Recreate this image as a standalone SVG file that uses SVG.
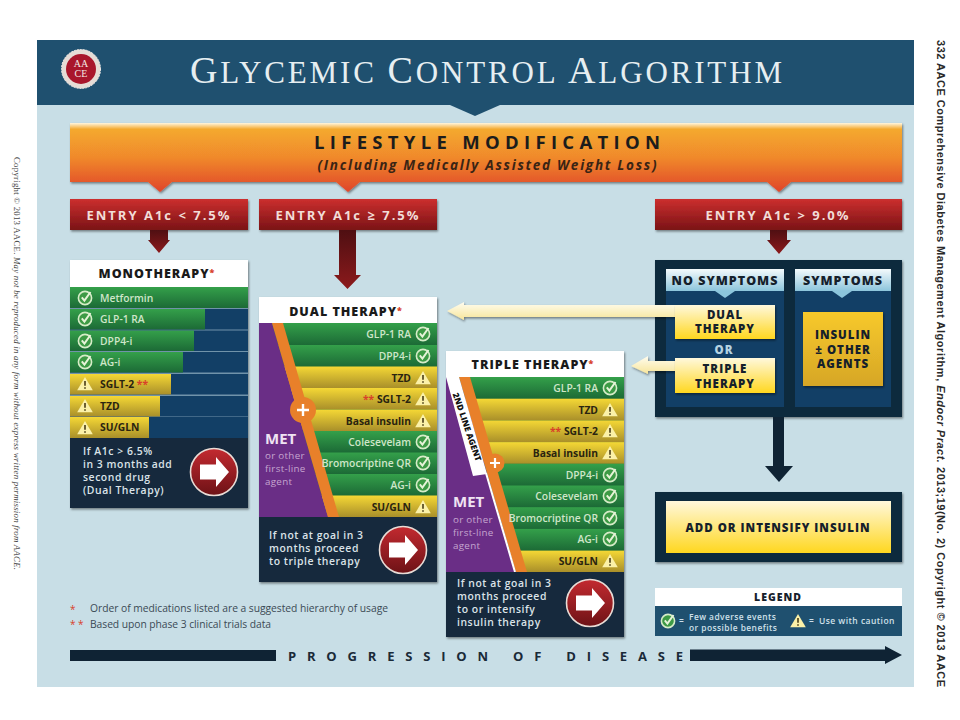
<svg xmlns="http://www.w3.org/2000/svg" width="960" height="720" viewBox="0 0 960 720">
<style>
text{font-family:"Open Sans","Noto Sans",sans-serif;}
.hd{font-weight:800;font-size:12.5px;letter-spacing:1px;fill:#1a1a1a;text-anchor:middle}
.en{font-weight:700;font-size:13px;letter-spacing:2px;fill:#f2ddd8;text-anchor:middle}
.rg{font-weight:600;font-size:10.3px;fill:#cfe6c9}
.ry{font-weight:700;font-size:10.3px;fill:#2a2410}
.r{text-anchor:end}
.ft{font-weight:600;font-size:10.4px;letter-spacing:.55px;fill:#dbe3e8}
.met{font-weight:700;font-size:15px;fill:#efe3f2}
.sub{font-weight:400;font-size:9.800px;letter-spacing:.3px;fill:#c6a6d0}
.ast{fill:#d8402a}
.cap{font-weight:800;font-size:11.5px;letter-spacing:1px;fill:#15202b;text-anchor:middle}
.gb{fill:url(#green)}.yb{fill:url(#yellow)}.bb{fill:#123f66}
.dk{fill:#16293d}
.sh{filter:url(#shadow)}
.lg{font-weight:600;font-size:8.400px;letter-spacing:.45px;fill:#cfe0ea}
</style>
<defs>
<filter id="shadow" x="-10%" y="-30%" width="125%" height="170%"><feDropShadow dx="1" dy="1.5" stdDeviation="1.2" flood-color="#000" flood-opacity=".45"/></filter>
<linearGradient id="green" x1="0" y1="0" x2="0" y2="1"><stop offset="0" stop-color="#34a04a"/><stop offset="1" stop-color="#1c6a36"/></linearGradient>
<linearGradient id="yellow" x1="0" y1="0" x2="0" y2="1"><stop offset="0" stop-color="#f5d835"/><stop offset="1" stop-color="#a98f2a"/></linearGradient>
<linearGradient id="orange" x1="0" y1="0" x2="0" y2="1"><stop offset="0" stop-color="#fff6df"/><stop offset=".09" stop-color="#f4a92e"/><stop offset=".5" stop-color="#f0892c"/><stop offset="1" stop-color="#e0452c"/></linearGradient>
<linearGradient id="red" x1="0" y1="0" x2="0" y2="1"><stop offset="0" stop-color="#cc2f2e"/><stop offset="1" stop-color="#7a1316"/></linearGradient>
<linearGradient id="darkred" x1="0" y1="0" x2="0" y2="1"><stop offset="0" stop-color="#4f0f12"/><stop offset="1" stop-color="#8c1a1c"/></linearGradient>
<linearGradient id="btn" x1="0" y1="0" x2="0" y2="1"><stop offset="0" stop-color="#c32a30"/><stop offset="1" stop-color="#6d1216"/></linearGradient>
<linearGradient id="sky" x1="0" y1="0" x2="0" y2="1"><stop offset="0" stop-color="#f4fafc"/><stop offset="1" stop-color="#8cc5dc"/></linearGradient>
<linearGradient id="cream" x1="0" y1="0" x2="0" y2="1"><stop offset="0" stop-color="#fff8dc"/><stop offset="1" stop-color="#ffd71f"/></linearGradient>
<linearGradient id="gold" x1="0" y1="0" x2="0" y2="1"><stop offset="0" stop-color="#f7c92c"/><stop offset="1" stop-color="#d6a626"/></linearGradient>
<linearGradient id="pale" x1="0" y1="0" x2="0" y2="1"><stop offset="0" stop-color="#fffdf0"/><stop offset="1" stop-color="#f7e59a"/></linearGradient>
<g id="chk"><circle r="6.6" fill="#3d9a45" stroke="#d6ecc8" stroke-width="1.6"/><path d="M-3.2-.6L-.6 2.6L5.5-6" fill="none" stroke="#e6f3d8" stroke-width="2"/></g>
<g id="wrn"><path d="M0-7L7.8 6.2H-7.8Z" fill="#fbf1a8"/><path d="M0-3V1.8M0 3.2V4.8" stroke="#3c2f0c" stroke-width="1.5"/></g>
<g id="go"><circle r="23.5" fill="url(#btn)" stroke="#e9dcd6" stroke-width="1.6"/><path d="M-14-7.5H2V-15L15 0L2 15V7.5H-14Z" fill="#fff"/></g>
</defs>

<rect x="37" y="40" width="877" height="647" fill="#c8dee6"/>

<g id="header">
<rect x="37" y="40" width="877" height="65" fill="#1f506f"/>
<path d="M450 105H500L475 116Z" fill="#1f506f"/>
<circle cx="81" cy="69" r="19.500" fill="#e6dcd6" stroke="#f2eeea" stroke-width="1" stroke-dasharray="2 1"/>
<circle cx="81" cy="69" r="15" fill="#a9162c"/>
<text x="81" y="67" font-size="10" text-anchor="middle" fill="#f4e8e4" style="font-family:'Liberation Serif',serif">AA</text>
<text x="81" y="77" font-size="10" text-anchor="middle" fill="#f4e8e4" style="font-family:'Liberation Serif',serif">CE</text>
<text x="190" y="83" font-size="31" fill="#e6eef1" textLength="592" lengthAdjust="spacing" style="font-family:'Liberation Serif',serif"><tspan font-size="38">G</tspan>LYCEMIC <tspan font-size="38">C</tspan>ONTROL <tspan font-size="38">A</tspan>LGORITHM</text>
</g>

<g id="lifestyle">
<path class="sh" d="M70 123H902V182H791L779 192L767 182H360L348 192L336 182H172L160 192L148 182H70Z" fill="url(#orange)"/>
<text x="487" y="149" font-size="18.500" font-weight="700" fill="#1c1c1c" text-anchor="middle" textLength="346" lengthAdjust="spacing">LIFESTYLE MODIFICATION</text>
<text x="487" y="170" font-size="13.500" font-weight="700" font-style="italic" fill="#3a2414" text-anchor="middle" textLength="339" lengthAdjust="spacing">(Including Medically Assisted Weight Loss)</text>
</g>

<g id="entry-low"><rect class="sh" x="70" y="199" width="178" height="31" fill="url(#red)"/><text class="en" x="159" y="220">ENTRY A1c &lt; 7.5%</text></g>
<g id="entry-mid"><rect class="sh" x="259" y="199" width="178" height="31" fill="url(#red)"/><text class="en" x="348" y="220">ENTRY A1c ≥ 7.5%</text></g>
<g id="entry-high"><rect class="sh" x="655" y="199" width="247" height="31" fill="url(#red)"/><text class="en" x="778" y="220">ENTRY A1c &gt; 9.0%</text></g>

<g id="monotherapy">
<rect class="sh" x="70" y="260" width="178" height="248" fill="#6f93aa"/>
<rect x="70" y="260" width="178" height="27" fill="#fff"/>
<text class="hd" x="157" y="278">MONOTHERAPY<tspan class="ast" dy="-2" font-size="9">*</tspan></text>
<rect class="bb" x="70" y="309" width="178" height="20.500"/><rect class="bb" x="70" y="330.500" width="178" height="20.500"/><rect class="bb" x="70" y="352" width="178" height="20.500"/><rect class="bb" x="70" y="374" width="178" height="20.500"/><rect class="bb" x="70" y="396" width="178" height="20.500"/><rect class="bb" x="70" y="417" width="178" height="21"/>
<rect class="gb" x="70" y="287" width="178" height="21"/>
<rect class="gb" x="70" y="309" width="135" height="20.500"/>
<rect class="gb" x="70" y="330.500" width="124" height="20.500"/>
<rect class="gb" x="70" y="352" width="113" height="20.500"/>
<rect class="yb" x="70" y="374" width="101" height="20.500"/>
<rect class="yb" x="70" y="396" width="90" height="20.500"/>
<rect class="yb" x="70" y="417" width="79" height="21"/>
<use href="#chk" x="85" y="298"/><use href="#chk" x="85" y="319"/><use href="#chk" x="85" y="341"/><use href="#chk" x="85" y="362"/>
<use href="#wrn" x="85" y="384"/><use href="#wrn" x="85" y="406"/><use href="#wrn" x="85" y="428"/>
<text class="rg" x="100" y="301.500">Metformin</text>
<text class="rg" x="100" y="323">GLP-1 RA</text>
<text class="rg" x="100" y="345">DPP4-i</text>
<text class="rg" x="100" y="366">AG-i</text>
<text class="ry" x="100" y="388">SGLT-2 <tspan class="ast">**</tspan></text>
<text class="ry" x="100" y="410">TZD</text>
<text class="ry" x="100" y="431">SU/GLN</text>
<rect class="dk" x="70" y="438" width="178" height="70"/>
<text class="ft" x="83" y="455">If A1c &gt; 6.5%</text>
<text class="ft" x="83" y="468">in 3 months add</text>
<text class="ft" x="83" y="481">second drug</text>
<text class="ft" x="83" y="494">(Dual Therapy)</text>
<use href="#go" x="214" y="472"/>
</g>

<g id="dual-therapy">
<rect class="sh" x="259" y="297" width="178" height="285" fill="#1c6a36"/>
<rect x="259" y="297" width="178" height="26" fill="#fff"/>
<text class="hd" x="346" y="316">DUAL THERAPY<tspan class="ast" dy="-2" font-size="9">*</tspan></text>
<rect class="gb" x="259" y="323" width="178" height="22"/>
<rect class="gb" x="259" y="345" width="178" height="21.500"/>
<rect class="yb" x="259" y="366.500" width="178" height="21.500"/>
<rect class="yb" x="259" y="388" width="178" height="21.500"/>
<rect class="yb" x="259" y="409.500" width="178" height="21.500"/>
<rect class="gb" x="259" y="431" width="178" height="21.500"/>
<rect class="gb" x="259" y="452.500" width="178" height="21.500"/>
<rect class="gb" x="259" y="474" width="178" height="21.500"/>
<rect class="yb" x="259" y="495.500" width="178" height="21.500"/>
<path d="M259 323H272L328 517H259Z" fill="#6a2e86"/>
<path d="M272 323H283L339 517H328Z" fill="#e8802a"/>
<circle cx="303" cy="410" r="13" fill="#e8802a"/>
<path d="M303 404V416M297 410H309" stroke="#fff" stroke-width="2.400"/>
<text class="met" x="265" y="444">MET</text>
<text class="sub" x="265" y="459">or other</text>
<text class="sub" x="265" y="472">first-line</text>
<text class="sub" x="265" y="485">agent</text>
<text class="rg r" x="411" y="338">GLP-1 RA</text>
<text class="rg r" x="411" y="360">DPP4-i</text>
<text class="ry r" x="411" y="382">TZD</text>
<text class="ry r" x="411" y="403"><tspan class="ast">**</tspan> SGLT-2</text>
<text class="ry r" x="411" y="425">Basal insulin</text>
<text class="rg r" x="411" y="446">Colesevelam</text>
<text class="rg r" x="411" y="467">Bromocriptine QR</text>
<text class="rg r" x="411" y="489">AG-i</text>
<text class="ry r" x="411" y="511">SU/GLN</text>
<use href="#chk" x="423" y="334"/><use href="#chk" x="423" y="356"/><use href="#wrn" x="423" y="378"/><use href="#wrn" x="423" y="399"/><use href="#wrn" x="423" y="421"/><use href="#chk" x="423" y="442"/><use href="#chk" x="423" y="463"/><use href="#chk" x="423" y="485"/><use href="#wrn" x="423" y="507"/>
<rect class="dk" x="259" y="517" width="178" height="65"/>
<text class="ft" x="269" y="539">If not at goal in 3</text>
<text class="ft" x="269" y="552">months proceed</text>
<text class="ft" x="269" y="565">to triple therapy</text>
<use href="#go" x="403" y="550"/>
</g>

<g id="triple-therapy">
<rect class="sh" x="446" y="351" width="178" height="286" fill="#1c6a36"/>
<rect x="446" y="351" width="178" height="26" fill="#fff"/>
<text class="hd" x="533" y="369">TRIPLE THERAPY<tspan class="ast" dy="-2" font-size="9">*</tspan></text>
<rect class="gb" x="446" y="377" width="178" height="21.700"/>
<rect class="yb" x="446" y="398.700" width="178" height="21.700"/>
<rect class="yb" x="446" y="420.400" width="178" height="21.700"/>
<rect class="yb" x="446" y="442.100" width="178" height="21.700"/>
<rect class="gb" x="446" y="463.800" width="178" height="21.700"/>
<rect class="gb" x="446" y="485.500" width="178" height="21.700"/>
<rect class="gb" x="446" y="507.200" width="178" height="21.700"/>
<rect class="gb" x="446" y="528.900" width="178" height="21.700"/>
<rect class="yb" x="446" y="550.600" width="178" height="21.400"/>
<path d="M446 377H459L516 572H446Z" fill="#6a2e86"/>
<path d="M459 377H470L527 572H516Z" fill="#e8802a"/>
<circle cx="495" cy="463" r="9.500" fill="#e8802a"/>
<path d="M495 458V468M490 463H500" stroke="#fff" stroke-width="2.200"/>
<path d="M446 377H459L487 474L473 476Z" fill="#fff"/>
<path d="M486 473L515 572" stroke="#fff" stroke-width="2"/>
<text x="467" y="430" font-size="8.500" font-weight="800" fill="#111" text-anchor="middle" transform="rotate(71 467 427)">2ND LINE AGENT</text>
<text class="met" x="453" y="507">MET</text>
<text class="sub" x="453" y="523">or other</text>
<text class="sub" x="453" y="536">first-line</text>
<text class="sub" x="453" y="549">agent</text>
<text class="rg r" x="598" y="392">GLP-1 RA</text>
<text class="ry r" x="598" y="414">TZD</text>
<text class="ry r" x="598" y="435"><tspan class="ast">**</tspan> SGLT-2</text>
<text class="ry r" x="598" y="457">Basal insulin</text>
<text class="rg r" x="598" y="479">DPP4-i</text>
<text class="rg r" x="598" y="500">Colesevelam</text>
<text class="rg r" x="598" y="522">Bromocriptine QR</text>
<text class="rg r" x="598" y="543">AG-i</text>
<text class="ry r" x="598" y="565">SU/GLN</text>
<use href="#chk" x="610" y="388"/><use href="#wrn" x="610" y="410"/><use href="#wrn" x="610" y="431"/><use href="#wrn" x="610" y="453"/><use href="#chk" x="610" y="475"/><use href="#chk" x="610" y="496"/><use href="#chk" x="610" y="518"/><use href="#chk" x="610" y="539"/><use href="#wrn" x="610" y="561"/>
<rect class="dk" x="446" y="572" width="178" height="65"/>
<text class="ft" x="457" y="587">If not at goal in 3</text>
<text class="ft" x="457" y="600">months proceed</text>
<text class="ft" x="457" y="613">to or intensify</text>
<text class="ft" x="457" y="626">insulin therapy</text>
<use href="#go" x="590" y="603"/>
</g>

<g id="symptom-panel">
<rect class="sh" x="655" y="260" width="247" height="157" fill="#11293c"/>
<rect x="666" y="269" width="118" height="138" fill="#123f66"/>
<rect x="795" y="269" width="96" height="138" fill="#123f66"/>
<rect x="666" y="269" width="118" height="22" fill="url(#sky)"/>
<rect x="795" y="269" width="96" height="22" fill="url(#sky)"/>
<path d="M715 291H735L725 298Z" fill="#8cc5dc"/>
<path d="M832 291H852L842 298Z" fill="#8cc5dc"/>
<text class="cap" x="725" y="285" style="font-size:12.500px">NO SYMPTOMS</text>
<text class="cap" x="843" y="285" style="font-size:12.500px">SYMPTOMS</text>
</g>

<g id="connectors">
<path d="M150 230H168V240H170L159 253L148 240H150Z" fill="url(#darkred)"/>
<path d="M339 230H356V275H361L347.500 289L334 275H339Z" fill="url(#darkred)"/>
<path d="M770 230H787V240H791L779 254L767 240H770Z" fill="url(#darkred)"/>
<path d="M773 417H784V466H793L779 482L765 466H773Z" fill="#0f2334"/>
<path class="sh" d="M676 305H464V302L447 311L464 320V317H676Z" fill="url(#pale)"/>
<path class="sh" d="M676 361H648V356L631 366L648 374V371H676Z" fill="url(#pale)"/>
</g>

<g id="dual-option">
<rect class="sh" x="675" y="305" width="100" height="34" fill="url(#cream)"/>
<text class="cap" x="725" y="319">DUAL</text><text class="cap" x="725" y="333">THERAPY</text>
</g>
<g id="or-label"><text x="724" y="354" font-size="11.500" font-weight="800" letter-spacing="1" fill="#b5d3e2" text-anchor="middle">OR</text></g>
<g id="triple-option">
<rect class="sh" x="675" y="358" width="100" height="35" fill="url(#cream)"/>
<text class="cap" x="725" y="373">TRIPLE</text><text class="cap" x="725" y="388">THERAPY</text>
</g>
<g id="insulin-option">
<rect class="sh" x="803" y="312" width="80" height="74" fill="url(#gold)"/>
<text class="cap" x="843" y="339">INSULIN</text><text class="cap" x="843" y="354">± OTHER</text><text class="cap" x="843" y="368">AGENTS</text>
</g>

<g id="add-insulin">
<rect class="sh" x="655" y="492" width="247" height="70" fill="#11293c"/>
<rect x="666" y="501" width="225" height="52" fill="url(#cream)"/>
<text class="cap" x="778" y="532">ADD OR INTENSIFY INSULIN</text>
</g>

<g id="legend">
<rect x="655" y="588" width="247" height="18" fill="#fff"/>
<rect x="655" y="606" width="247" height="30" fill="#1f506f"/>
<text class="cap" x="778" y="601" style="font-size:10.500px">LEGEND</text>
<use href="#chk" x="668" y="621"/>
<text class="lg" x="679" y="624">=</text>
<text class="lg" x="689" y="619.500">Few adverse events</text>
<text class="lg" x="689" y="630.500">or possible benefits</text>
<use href="#wrn" x="798" y="621"/>
<text class="lg" x="809" y="624">=</text>
<text class="lg" x="819" y="624" style="font-size:8.500px">Use with caution</text>
</g>

<g id="footnotes">
<text class="ast" x="70" y="613" font-size="10">*</text>
<text x="90" y="612" font-size="10.300" fill="#3b4a55" textLength="298" lengthAdjust="spacing">Order of medications listed are a suggested hierarchy of usage</text>
<text class="ast" x="70" y="628" font-size="10">* *</text>
<text x="90" y="628" font-size="10.300" fill="#3b4a55" textLength="181" lengthAdjust="spacing">Based upon phase 3 clinical trials data</text>
</g>

<g id="progression">
<rect x="70" y="650" width="206" height="11" fill="#0f2334"/>
<text x="288" y="661" font-size="13" font-weight="700" fill="#1a2a38" textLength="395" lengthAdjust="spacing">PROGRESSION OF DISEASE</text>
<path d="M690 649.500H885V646L902 655L885 664V661H690Z" fill="#0f2334"/>
</g>

<g id="side-notes">
<text transform="translate(14 157) rotate(90)" font-size="8.800" fill="#444" textLength="413" lengthAdjust="spacing" style="font-family:'Liberation Serif',serif">Copyright © 2013 AACE. <tspan font-style="italic">May not be reproduced in any form without express written permission from AACE.</tspan></text>
<text transform="translate(937 40) rotate(90)" font-size="11" font-weight="700" fill="#2a2a2a" textLength="647" lengthAdjust="spacing" style="font-family:'Liberation Sans',sans-serif">332 AACE Comprehensive Diabetes Management Algorithm, <tspan font-style="italic">Endocr Pract.</tspan> 2013;19(No. 2) Copyright © 2013 AACE</text>
</g>
</svg>
